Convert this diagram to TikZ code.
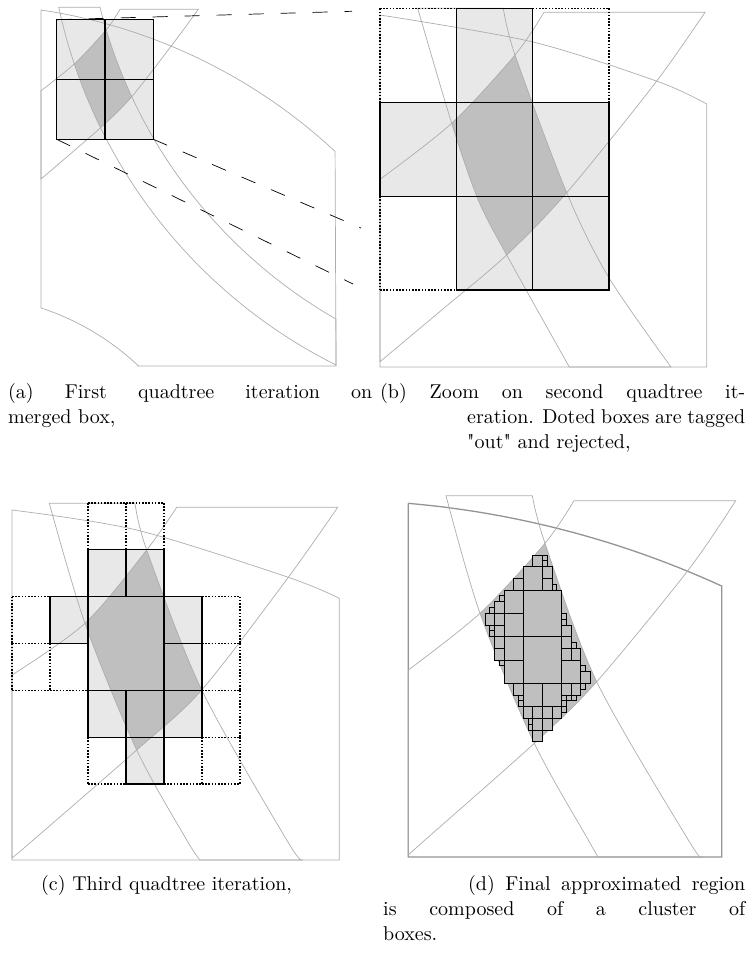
\documentclass[tikz,border=0pt]{standalone}
\usepackage{fontspec}
\setmainfont{lmroman10-regular.otf}
\begin{document}
\begin{tikzpicture}[x=1pt, y=-1pt,
    every node/.style={font=\fontsize{20}{25}\selectfont, inner sep=0pt, anchor=base west},
    regline/.style={draw=black!32, line width=0.7pt},
    frameline/.style={draw=black!42, line width=1.3pt},
    darkreg/.style={fill=black!25},
    lightbox/.style={fill=black!9},
    inbox/.style={draw=black, line width=1.1pt},
    outbox/.style={draw=black, line width=1.1pt, dash pattern=on 1.6pt off 1.6pt},
    leafbox/.style={draw=black, line width=0.9pt, fill=black!25},
    zoomline/.style={draw=black, line width=0.7pt, dash pattern=on 15pt off 17pt}
  ]
  \useasboundingbox (0,0) rectangle (751,959);

  % (a) first iteration
  \path[save path=\aBandTwo] plot[domain=167.86:116.58, samples=40] ({570+523*cos(\x)}, {-102.7+523*sin(\x)})
    -- plot[domain=119.83:165.93, samples=40] ({584.3+499.3*cos(\x)}, {-114.1+499.3*sin(\x)}) -- cycle;
  \path[save path=\aBandThree] plot[smooth] coordinates {(120,9.3) (106.7,29.3) (75,63.3) (41,90.7)}
    -- plot[smooth] coordinates {(41,179) (101.7,126.7) (131.7,96.7) (173.3,43.3) (198.3,9.3)} -- cycle;
  \begin{scope}[shift={(56.7,19.7)}, x=48.3pt, y=-59.8pt]
    \foreach \i/\j in {0/0, 1/0, 0/1, 1/1} \fill[lightbox] (\i,\j) rectangle ++(1,1);
  \end{scope}
  \begin{scope}
    \clip[use path=\aBandTwo];
    \fill[darkreg, use path=\aBandThree];
  \end{scope}
  \draw[regline] (41,307) -- (41,11)
    -- plot[domain=-81.5:-47.1, samples=30] ({-40+551*cos(\x)}, {555+551*sin(\x)})
    -- (336,366) -- (138,366)
    -- plot[domain=-46.7:-71.9, samples=30] ({-40+260*cos(\x)}, {555+260*sin(\x)}) -- cycle;
  \draw[regline, use path=\aBandTwo];
  \draw[regline, use path=\aBandThree];
  \begin{scope}[shift={(56.7,19.7)}, x=48.3pt, y=-59.8pt]
    \foreach \i/\j in {0/0, 1/0, 0/1, 1/1} \draw[inbox] (\i,\j) rectangle ++(1,1);
  \end{scope}
  \coordinate (aTL) at (56.7,19.7);
  \coordinate (aBL) at (56.7,139.3);
  \coordinate (aBR) at (153.3,139.3);
  \coordinate (bTop) at (352,11.3);
  \coordinate (bLow) at (353,284);
  \coordinate (bMid) at (361,228);
  \draw[zoomline] (aTL) -- (bTop);
  \draw[zoomline] (aBL) -- (bLow);
  \draw[zoomline] (aBR) -- (bMid);

  % (b) zoom on second iteration
  \path[save path=\bBandTwo] plot[smooth] coordinates {(417.7,8.3) (451.7,123.3) (478.3,200) (506.7,255) (569.3,367)}
    -- plot[smooth] coordinates {(671,367) (608.3,276.7) (566.7,192.7) (515,55) (503.3,8.3)} -- cycle;
  \path[save path=\bBandThree] plot[smooth] coordinates {(544,12.3) (515,55) (451.7,123.3) (380,179.3)}
    -- plot[smooth] coordinates {(380,361.7) (441.7,310) (506.7,255) (566.7,192.7) (655,83.3) (705,12.3)} -- cycle;
  \begin{scope}[shift={(380,8.3)}, x=76.33pt, y=-93.9pt]
    \foreach \i/\j in {1/0, 0/1, 1/1, 2/1, 1/2, 2/2} \fill[lightbox] (\i,\j) rectangle ++(1,1);
  \end{scope}
  \begin{scope}
    \clip[use path=\bBandTwo];
    \fill[darkreg, use path=\bBandThree];
  \end{scope}
  \draw[regline] (380,367) -- (380,15)
    -- plot[smooth] coordinates {(380,15) (531.7,41.7) (658.3,81.7) (706.7,104)}
    -- (706.7,367) -- cycle;
  \draw[regline, use path=\bBandTwo];
  \draw[regline, use path=\bBandThree];
  \begin{scope}[shift={(380,8.3)}, x=76.33pt, y=-93.9pt]
    \foreach \i/\j in {0/0, 2/0, 0/2}
      \draw[outbox] (\i,\j) -- ++(1,0) (\i,\j) -- ++(0,1) (\i,\j) ++(1,0) -- ++(0,1) (\i,\j) ++(0,1) -- ++(1,0);
    \foreach \i/\j in {1/0, 0/1, 1/1, 2/1, 1/2, 2/2} \draw[inbox] (\i,\j) rectangle ++(1,1);
  \end{scope}

  % (c) third iteration
  \path[save path=\cBandTwo] plot[smooth] coordinates {(49.3,503.3) (85,623.3) (136.7,750) (186.7,840) (200,860)}
    -- plot[smooth] coordinates {(302,860) (286.7,840) (201.7,690) (146.7,550) (135,503.3)} -- cycle;
  \path[save path=\cBandThree] plot[smooth] coordinates {(176.7,507.3) (146.7,550) (85,623.3) (12,675)}
    -- plot[smooth] coordinates {(12,858) (33.3,840) (136.7,750) (201.7,690) (288.3,577.3) (337.7,507.3)} -- cycle;
  \begin{scope}[shift={(12,503)}, x=38pt, y=-46.83pt]
    \foreach \i/\j in {2/1, 3/1, 1/2, 4/2, 4/3, 2/4, 3/4, 4/4, 3/5} \fill[lightbox] (\i,\j) rectangle ++(1,1);
    \fill[lightbox] (2,2) rectangle ++(2,2);
  \end{scope}
  \begin{scope}
    \clip[use path=\cBandTwo];
    \fill[darkreg, use path=\cBandThree];
  \end{scope}
  \draw[regline] (12,860) -- (12,510)
    -- plot[smooth] coordinates {(12,510) (136.7,530) (288.3,577.3) (339.3,598.3)}
    -- (339.3,860) -- cycle;
  \draw[regline, use path=\cBandTwo];
  \draw[regline, use path=\cBandThree];
  \begin{scope}[shift={(12,503)}, x=38pt, y=-46.83pt]
    \foreach \i/\j in {2/0, 3/0, 0/2, 5/2, 0/3, 1/3, 5/3, 5/4, 2/5, 4/5, 5/5}
      \draw[outbox] (\i,\j) -- ++(1,0) (\i,\j) -- ++(0,1) (\i,\j) ++(1,0) -- ++(0,1) (\i,\j) ++(0,1) -- ++(1,0);
    \foreach \i/\j in {2/1, 3/1, 1/2, 4/2, 4/3, 2/4, 3/4, 4/4, 3/5} \draw[inbox] (\i,\j) rectangle ++(1,1);
    \draw[inbox] (2,2) rectangle ++(2,2);
  \end{scope}

  % (d) final cluster of boxes
  \path[save path=\dBandTwo] plot[smooth] coordinates {(446,495.7) (480,613.3) (534.3,743.3) (588.3,840) (598,857)}
    -- plot[smooth] coordinates {(702,857) (688.3,840) (596.7,681.7) (545,543.3) (532.3,495.7)} -- cycle;
  \path[save path=\dBandThree] plot[smooth] coordinates {(574,500.7) (545,543.3) (480,613.3) (408.3,670)}
    -- plot[smooth] coordinates {(408.3,855) (425,840) (534.3,743.3) (596.7,681.7) (688.3,570) (735.7,500.7)} -- cycle;
  \begin{scope}
    \clip[use path=\dBandTwo];
    \fill[darkreg, use path=\dBandThree];
  \end{scope}
  \draw[frameline] (408.3,857) -- (408.3,503.3)
    -- plot[domain=-85.03:-65.4, samples=30] ({325.9+951*cos(\x)}, {1450.7+951*sin(\x)})
    -- (721.7,857) -- cycle;
  \draw[regline, use path=\dBandTwo];
  \draw[regline, use path=\dBandThree];
  \begin{scope}[shift={(485,543.33)}, x=4.79pt, y=-5.833pt]
    \foreach \i/\j in {8/8, 8/16} \draw[leafbox] (\i,\j) rectangle ++(8,8);
    \foreach \i/\j in {8/4, 4/8, 4/12, 4/16, 4/20, 8/24, 12/24, 16/20} \draw[leafbox] (\i,\j) rectangle ++(4,4);
    \foreach \i/\j in {10/2, 12/4, 12/6, 6/6, 2/10, 0/12, 2/12, 2/14, 2/16, 2/18, 16/14, 16/16, 16/18, 18/18, 20/22,
                       6/24, 16/24, 18/24, 8/28, 10/28, 12/28, 14/28, 10/30, 12/30, 10/32}
      \draw[leafbox] (\i,\j) rectangle ++(2,2);
    \foreach \i/\j in {12/2, 12/3, 14/7, 3/9, 1/11, 1/14, 1/15, 3/20, 16/12, 16/13, 18/17, 20/21,
                       7/26, 7/27, 9/30, 9/31, 20/24, 16/26, 17/26, 16/27, 18/26, 16/28}
      \draw[leafbox] (\i,\j) rectangle ++(1,1);
  \end{scope}

  % captions
  \node (capA1) at (8,398) {\makebox[364pt][s]{(a) First quadtree iteration on}};
  \node (capA2) at (8,423) {merged box,};
  \node (capB1) at (380,398) {\makebox[365pt][s]{(b) Zoom on second quadtree it-}};
  \node (capB2) at (467,423) {\makebox[278pt][s]{eration. Doted boxes are tagged}};
  \node (capB3) at (467,448) {\textquotedbl out\textquotedbl{} and rejected,};
  \node (capC) at (41,890) {(c) Third quadtree iteration,};
  \node (capD1) at (468,890) {\makebox[277pt][s]{(d) Final approximated region}};
  \node (capD2) at (383,915) {\makebox[362pt][s]{is composed of a cluster of}};
  \node (capD3) at (383,940) {boxes.};
\end{tikzpicture}
\end{document}
